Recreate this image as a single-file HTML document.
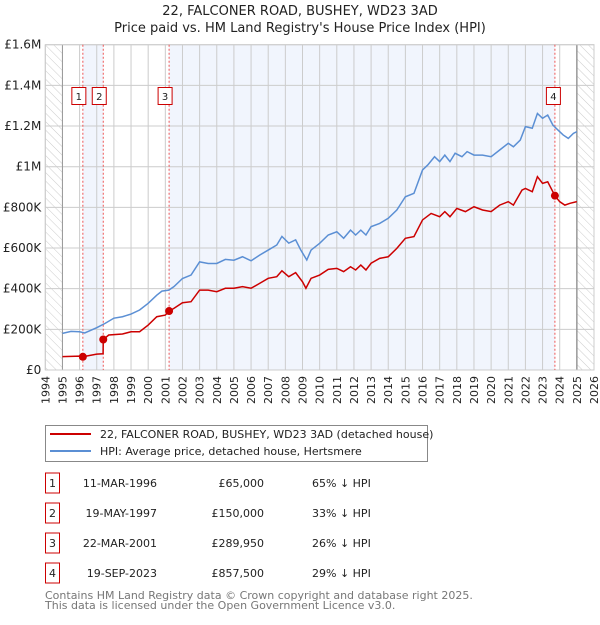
<!DOCTYPE html>
<html><head><meta charset="utf-8"><style>
body{margin:0;background:#fff;font-family:"Liberation Sans","DejaVu Sans",sans-serif;}
svg text{font-family:"DejaVu Sans","Liberation Sans",sans-serif;}
</style></head><body>
<svg id="chart" width="600" height="620" viewBox="0 0 600 620">
<defs><pattern id="hatch" width="6" height="6" patternUnits="userSpaceOnUse" patternTransform="rotate(-45)"><line x1="0" y1="0" x2="0" y2="6" stroke="#ccc" stroke-width="1"/></pattern></defs>
<text x="300" y="15" text-anchor="middle" font-size="13" fill="#222">22, FALCONER ROAD, BUSHEY, WD23 3AD</text>
<text x="300" y="32" text-anchor="middle" font-size="13" fill="#222">Price paid vs. HM Land Registry's House Price Index (HPI)</text>
<g id="plot"></g>
<g>
<rect x="45.5" y="425.5" width="382" height="36" fill="#fff" stroke="#888"/>
<line x1="50" y1="434" x2="91" y2="434" stroke="#cc0000" stroke-width="2"/>
<text x="100" y="438" font-size="11" fill="#222">22, FALCONER ROAD, BUSHEY, WD23 3AD (detached house)</text>
<line x1="50" y1="451" x2="91" y2="451" stroke="#5b8fd4" stroke-width="2"/>
<text x="100" y="455" font-size="11" fill="#222">HPI: Average price, detached house, Hertsmere</text>
</g>
<g id="table" font-size="11" fill="#222"></g>
<text x="45" y="599" font-size="11" fill="#777">Contains HM Land Registry data © Crown copyright and database right 2025.</text>
<text x="45" y="609" font-size="11" fill="#777">This data is licensed under the Open Government Licence v3.0.</text>
</svg>
<script>
const hpiYears=[1995,1995.5,1996,1996.3,1997,1997.5,1998,1998.5,1999,1999.5,2000,2000.5,2000.8,2001.2,2001.5,2002,2002.5,2003,2003.5,2004,2004.5,2005,2005.5,2006,2006.5,2007,2007.5,2007.8,2008.2,2008.6,2008.9,2009.25,2009.5,2010,2010.5,2011,2011.4,2011.8,2012.1,2012.4,2012.7,2013,2013.5,2014,2014.5,2015,2015.5,2016,2016.3,2016.7,2017,2017.3,2017.6,2017.9,2018.3,2018.6,2019,2019.5,2020,2020.5,2021,2021.3,2021.7,2022,2022.4,2022.7,2023,2023.3,2023.6,2023.9,2024.2,2024.5,2024.8,2025];
const hpiValues=[180,190,188,182,208,230,255,262,275,295,328,368,388,393,410,450,467,532,524,524,544,540,557,537,565,590,615,657,624,640,590,541,590,623,664,680,648,688,664,688,664,705,721,746,787,852,869,984,1008,1049,1025,1057,1025,1066,1049,1074,1057,1057,1049,1082,1115,1098,1131,1197,1189,1262,1238,1254,1205,1180,1156,1139,1164,1172];
const ppYears=[1995,1996,1996.19,1997,1997.37,1997.38,1997.7,1998.5,1999,1999.5,2000,2000.5,2001,2001.22,2001.5,2002,2002.5,2003,2003.5,2004,2004.5,2005,2005.5,2006,2006.5,2007,2007.5,2007.8,2008.2,2008.6,2009,2009.2,2009.5,2010,2010.5,2011,2011.4,2011.8,2012.1,2012.4,2012.7,2013,2013.5,2014,2014.5,2015,2015.5,2016,2016.5,2017,2017.3,2017.6,2018,2018.5,2019,2019.5,2020,2020.5,2021,2021.3,2021.8,2022,2022.4,2022.7,2023,2023.3,2023.72,2024,2024.3,2024.6,2025];
const ppValues=[66,68,65,78,80,150,172,177,188,188,221,262,270,289.95,303,331,336,393,393,385,402,402,410,402,426,451,459,488,459,479,434,402,451,467,495,500,484,508,492,516,492,525,549,557,598,648,656,738,770,754,779,754,795,779,803,787,779,811,828,811,885,893,877,951,918,926,857.5,828,811,820,828];
const saleYears=[1996.19,1997.38,2001.22,2023.72];
const salePrices=[65,150,289.95,857.5];
const saleLabels=["1","2","3","4"];
const saleDates=["11-MAR-1996","19-MAY-1997","22-MAR-2001","19-SEP-2023"];
const salePriceText=["£65,000","£150,000","£289,950","£857,500"];
const saleDiffs=["65% ↓ HPI","33% ↓ HPI","26% ↓ HPI","29% ↓ HPI"];
const yTicks=[0,200,400,600,800,1000,1200,1400,1600];
const yTickLabels=["£0","£200K","£400K","£600K","£800K","£1M","£1.2M","£1.4M","£1.6M"];
const NS="http://www.w3.org/2000/svg";
const L=45.3,R=594,T=44.7,B=370;
const x=y=>L+(y-1994)*(R-L)/32;
const yv=v=>B-v*(B-T)/1600;
const plot=document.getElementById('plot');
function mk(tag,at,parent){const e=document.createElementNS(NS,tag);for(const k in at)e.setAttribute(k,at[k]);(parent||plot).appendChild(e);return e;}
let e;
e=mk('rect',{x:L,y:T,width:R-L,height:B-T,fill:'#fff'});


e=mk('rect',{x:x(saleYears[0]),y:T,width:x(saleYears[1])-x(saleYears[0]),height:B-T,fill:'#eef3fc',opacity:0.8});


e=mk('rect',{x:x(saleYears[2]),y:T,width:x(saleYears[3])-x(saleYears[2]),height:B-T,fill:'#eef3fc',opacity:0.8});


e=mk('rect',{x:L,y:T,width:x(1995)-L,height:B-T,fill:'url(#hatch)'});


e=mk('rect',{x:x(2025),y:T,width:R-x(2025),height:B-T,fill:'url(#hatch)'});


for(let yr=1994;yr<=2026;yr++){
 e=mk('line',{x1:x(yr),x2:x(yr),y1:T,y2:B,stroke:'#ccc','stroke-width':1});
 
 
 const t=mk('text',{x:0,y:0,'font-size':11,fill:'#222','text-anchor':'end',transform:`translate(${x(yr)+4},${B+6}) rotate(-90)`});
 t.textContent=yr;
 
 
}
yTicks.forEach((v,i)=>{
 e=mk('line',{x1:L,x2:R,y1:yv(v),y2:yv(v),stroke:'#ccc','stroke-width':1});
 
 
 const t=mk('text',{x:L-4,y:yv(v)+4,'font-size':12,fill:'#222','text-anchor':'end'});
 t.textContent=yTickLabels[i];
 
 
});
e=mk('line',{x1:x(1995),x2:x(1995),y1:T,y2:B,stroke:'#999','stroke-width':1});


e=mk('line',{x1:x(2025),x2:x(2025),y1:T,y2:B,stroke:'#999','stroke-width':1.5});


e=mk('rect',{x:L,y:T,width:R-L,height:B-T,fill:'none',stroke:'#ccc'});


saleYears.forEach((yr,i)=>{
 e=mk('line',{x1:x(yr),x2:x(yr),y1:T,y2:B,stroke:'#ee5555','stroke-width':1,'stroke-dasharray':'2,2'});
 
 
});
e=mk('polyline',{points:hpiYears.map((y,i)=>x(y)+','+yv(hpiValues[i])).join(' '),fill:'none',stroke:'#5b8fd4','stroke-width':1.5});


e=mk('polyline',{points:ppYears.map((y,i)=>x(y)+','+yv(ppValues[i])).join(' '),fill:'none',stroke:'#cc0000','stroke-width':1.5});


saleYears.forEach((yr,i)=>{
 e=mk('circle',{cx:x(yr),cy:yv(salePrices[i]),r:4,fill:'#cc0000'});
 
 
 const bx=x(yr)-(i==3?1.5:4)-7;
 e=mk('rect',{x:bx,y:87.5,width:14,height:17,fill:'#fff',stroke:'#cc0000'});
 
 
 const t=mk('text',{x:bx+7,y:100,'font-size':10,fill:'#222','text-anchor':'middle'});
 t.textContent=saleLabels[i];
 
 
});
const tb=document.getElementById('table');
saleLabels.forEach((lab,i)=>{
 const cy=483+30*i;
 e=mk('rect',{x:45.5,y:cy-10,width:14,height:20,fill:'#fff',stroke:'#cc0000'},tb);
 
 
 let t=mk('text',{x:52.5,y:cy+4,'text-anchor':'middle'},tb);t.textContent=lab;
 
 
 t=mk('text',{x:157,y:cy+4,'text-anchor':'end'},tb);t.textContent=saleDates[i];
 
 
 t=mk('text',{x:264,y:cy+4,'text-anchor':'end'},tb);t.textContent=salePriceText[i];
 
 
 t=mk('text',{x:312,y:cy+4},tb);t.textContent=saleDiffs[i];
 
 
});
</script>
</body></html>
